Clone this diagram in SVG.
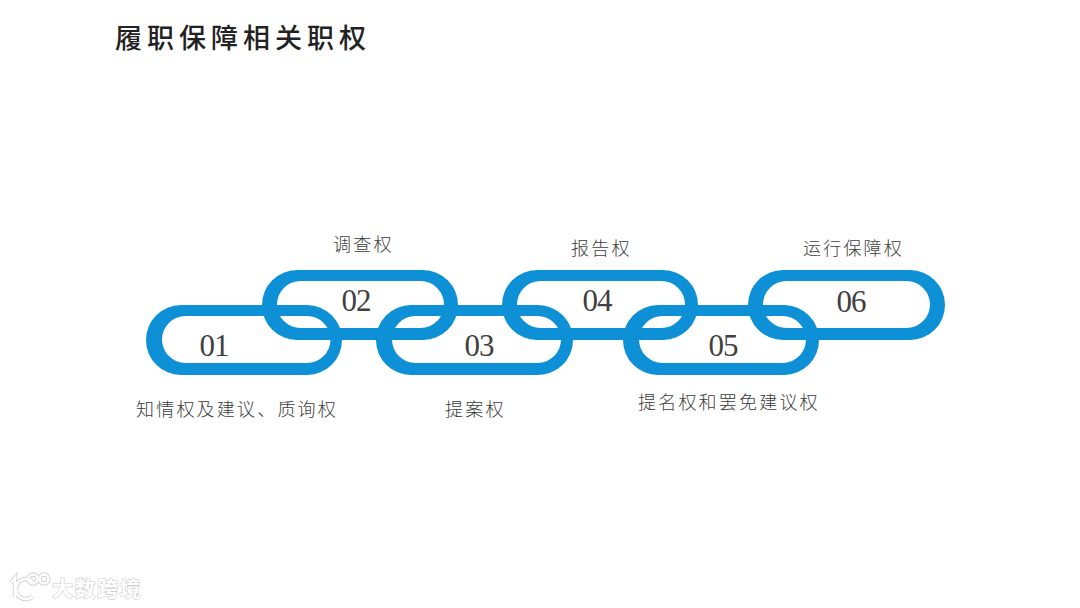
<svg xmlns="http://www.w3.org/2000/svg" width="1080" height="608" viewBox="0 0 1080 608">
<style>
.link{fill:#0d90d6;fill-rule:evenodd}
.num{font-family:"Liberation Serif","Times New Roman",serif;font-size:31px;letter-spacing:-1px;fill:#404040;text-anchor:middle}
.lbl{font-family:"Noto Sans CJK SC",sans-serif;font-size:18px;font-weight:300;letter-spacing:2.2px;fill:#3c3c3c}
.title{font-family:"Noto Sans CJK SC",sans-serif;font-size:27px;font-weight:500;letter-spacing:5px;fill:#222}
.wm{font-family:"Noto Sans CJK SC",sans-serif;font-size:21px;font-weight:700;letter-spacing:1.5px;fill:#fff;stroke:#cfcfcf;stroke-width:1.2px;paint-order:stroke}
.wl{fill:none;stroke:#fff;stroke-width:2.6}
.wo{fill:none;stroke:#d2d2d2;stroke-width:4.4}
</style>
<rect width="1080" height="608" fill="#fff"/>
<text class="title" x="115" y="48">履职保障相关职权</text>
<g id="node-01">
<path class="link" d="M181 305H307a35 35 0 0 1 0 70H181a35 35 0 0 1 0-70ZM185.500 316a23.500 23.500 0 0 0 0 47H307a23.500 23.500 0 0 0 0-47Z"/>
<text class="num" x="214" y="356">01</text>
<text class="lbl" x="136" y="416">知情权及建议、质询权</text>
</g>
<g id="node-02">
<path class="link" d="M297 270H423a35 35 0 0 1 0 70H297a35 35 0 0 1 0-70ZM300.500 281a23.500 23.500 0 0 0 0 47H420.500a23.500 23.500 0 0 0 0-47Z"/>
<text class="num" x="356" y="311">02</text>
<text class="lbl" x="333" y="251">调查权</text>
</g>
<g id="node-03">
<path class="link" d="M411 305H538a35 35 0 0 1 0 70H411a35 35 0 0 1 0-70ZM415.500 316a23.500 23.500 0 0 0 0 47H537.500a23.500 23.500 0 0 0 0-47Z"/>
<text class="num" x="479" y="356">03</text>
<text class="lbl" x="445" y="416">提案权</text>
</g>
<g id="node-04">
<path class="link" d="M537 270H663a35 35 0 0 1 0 70H537a35 35 0 0 1 0-70ZM540.500 281a23.500 23.500 0 0 0 0 47H661.500a23.500 23.500 0 0 0 0-47Z"/>
<text class="num" x="597" y="311">04</text>
<text class="lbl" x="571" y="255">报告权</text>
</g>
<g id="node-05">
<path class="link" d="M658 305H784a35 35 0 0 1 0 70H658a35 35 0 0 1 0-70ZM662.500 316a23.500 23.500 0 0 0 0 47H782.500a23.500 23.500 0 0 0 0-47Z"/>
<text class="num" x="723" y="356">05</text>
<text class="lbl" x="638" y="409">提名权和罢免建议权</text>
</g>
<g id="node-06">
<path class="link" d="M783 270H910a35 35 0 0 1 0 70H783a35 35 0 0 1 0-70ZM786.500 281a23.500 23.500 0 0 0 0 47H906.500a23.500 23.500 0 0 0 0-47Z"/>
<text class="num" x="851" y="312">06</text>
<text class="lbl" x="803" y="255">运行保障权</text>
</g>
<g id="connectors"/>
<g id="watermark">
<path class="wo" d="M11 583L15 578V598M33 582a10 10 0 1 0 0 14"/>
<circle class="wo" cx="33" cy="579" r="4.500"/><circle class="wo" cx="44" cy="579" r="4.500"/>
<path class="wl" d="M11 583L15 578V598M33 582a10 10 0 1 0 0 14"/>
<circle class="wl" cx="33" cy="579" r="4.500"/><circle class="wl" cx="44" cy="579" r="4.500"/>
<text class="wm" x="52" y="596">大数跨境</text>
</g>
</svg>
